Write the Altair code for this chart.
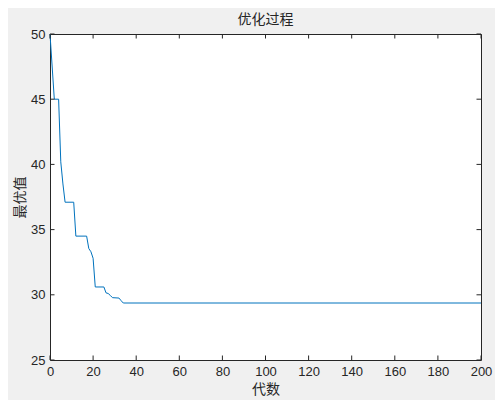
import altair as alt
import pandas as pd

# Generation (代数) and best value (最优值) at each change point
gens = [0, 2, 4, 5, 6, 7, 11, 12, 17, 18, 19, 20, 21, 25, 26, 27, 28, 29, 32, 33, 34, 200]
best = [50.0, 45.0, 45.0, 40.2, 38.5, 37.1, 37.1, 34.5, 34.5, 33.55, 33.3, 32.8, 30.6, 30.6,
        30.15, 30.1, 29.95, 29.78, 29.75, 29.55, 29.37, 29.37]

x_ticks = [0, 20, 40, 60, 80, 100, 120, 140, 160, 180, 200]
y_ticks = [25, 30, 35, 40, 45, 50]

W, H = 431, 326
TL = 4.5
AX = "#262626"
FONT = "Liberation Sans"
CJK = "Noto Sans CJK SC"

df = pd.DataFrame({"gen": gens, "best": best})
xt = pd.DataFrame({"gen": x_ticks})
yt = pd.DataFrame({"best": y_ticks})

xs = alt.Scale(domain=[0, 200], nice=False, zero=False)
ys = alt.Scale(domain=[25, 50], nice=False, zero=False)

xa = alt.Axis(values=x_ticks, ticks=False, domain=False, grid=False,
              labelFont=FONT, labelFontSize=13, labelColor=AX, labelPadding=5,
              titleFont=CJK, titleFontSize=14, titleFontWeight="normal",
              titleColor=AX, titlePadding=4, labelFlush=False)
ya = alt.Axis(values=y_ticks, ticks=False, domain=False, grid=False,
              labelFont=FONT, labelFontSize=13, labelColor=AX, labelPadding=5,
              titleFont=CJK, titleFontSize=14, titleFontWeight="normal",
              titleColor=AX, titlePadding=3, labelFlush=False)

X = alt.X("gen:Q", scale=xs, title="代数", axis=xa)
Y = alt.Y("best:Q", scale=ys, title="最优值", axis=ya)

line = alt.Chart(df).mark_line(color="#0072BD", strokeWidth=1).encode(x=X, y=Y)

bottom = alt.Chart(xt).mark_rule(color=AX, strokeWidth=1).encode(
    x=X, y=alt.value(H), y2=alt.value(H - TL))
top = alt.Chart(xt).mark_rule(color=AX, strokeWidth=1).encode(
    x=X, y=alt.value(0), y2=alt.value(TL))
left = alt.Chart(yt).mark_rule(color=AX, strokeWidth=1).encode(
    y=Y, x=alt.value(0), x2=alt.value(TL))
right = alt.Chart(yt).mark_rule(color=AX, strokeWidth=1).encode(
    y=Y, x=alt.value(W), x2=alt.value(W - TL))

chart = alt.layer(line, bottom, top, left, right).properties(
    width=W, height=H,
    title=alt.TitleParams("优化过程", font=CJK, fontSize=14, fontWeight="normal",
                          color=AX, offset=1),
    autosize=alt.AutoSizeParams(type="none"),
    padding={"left": 42, "top": 26, "right": 14, "bottom": 40},
).configure(background="#f0f0f0").configure_view(
    fill="white", stroke=AX, strokeWidth=1
)

chart.save("out.html", embed_options={"renderer": "svg", "actions": False})
